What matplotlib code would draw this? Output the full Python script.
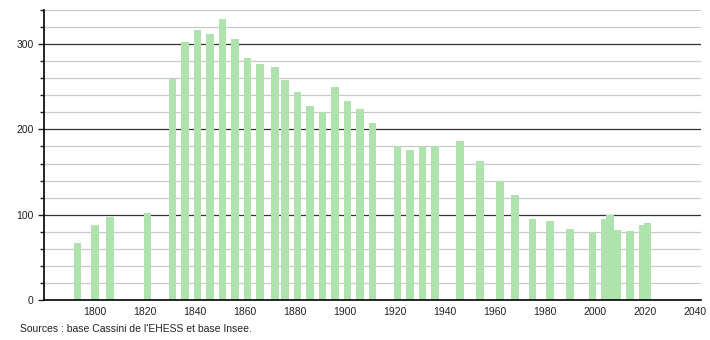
import matplotlib
matplotlib.use("Agg")
import matplotlib.pyplot as plt
import numpy as np

plt.rcParams['font.family'] = ['Liberation Sans', 'DejaVu Sans']

years = [1793, 1800, 1806, 1821, 1831, 1836, 1841, 1846, 1851, 1856,
         1861, 1866, 1872, 1876, 1881, 1886, 1891, 1896, 1901, 1906,
         1911, 1921, 1926, 1931, 1936, 1946, 1954, 1962, 1968, 1975,
         1982, 1990, 1999, 2004, 2006, 2009, 2014, 2019, 2021]
population = [67, 88, 97, 102, 259, 302, 316, 312, 330, 306,
              284, 277, 273, 258, 244, 227, 220, 250, 233, 224,
              208, 181, 176, 179, 181, 187, 163, 139, 123, 95,
              93, 83, 80, 95, 100, 82, 81, 88, 90]
source_text = "Sources : base Cassini de l'EHESS et base Insee."

fig = plt.figure(figsize=(7.1, 3.4), dpi=100)
ax = fig.add_axes([0.062, 0.1176, 0.925, 0.853])

# grid: light every 20, dark every 100
for v in range(20, 341, 20):
    if v % 100 == 0:
        ax.axhline(v, color='#333333', lw=0.9, zorder=1)
    else:
        ax.axhline(v, color='#c8c8c8', lw=0.9, zorder=1)

ax.bar(years, population, width=3.0, color='#aee3ae', zorder=2)

ax.set_xlim(1779.6, 2042.4)
ax.set_ylim(0, 340)
ax.set_xticks(range(1800, 2041, 20))
ax.set_yticks([0, 100, 200, 300])
ax.set_yticks(range(0, 341, 20), minor=True)
ax.tick_params(axis='x', length=0, labelsize=7.5, pad=5, colors='#222222')
ax.tick_params(axis='y', which='major', length=4, width=1, labelsize=7.5, colors='#222222')
ax.tick_params(axis='y', which='minor', length=3, width=1, color='#222222')

for s in ['top', 'right']:
    ax.spines[s].set_visible(False)
ax.spines['left'].set_color('black')
ax.spines['bottom'].set_color('black')
ax.spines['left'].set_linewidth(1.2)
ax.spines['bottom'].set_linewidth(1.2)

fig.text(20 / 710, 1 - 329 / 340, source_text, fontsize=7.5, color='#222222', va='center')

fig.savefig('out.png', dpi=100)
